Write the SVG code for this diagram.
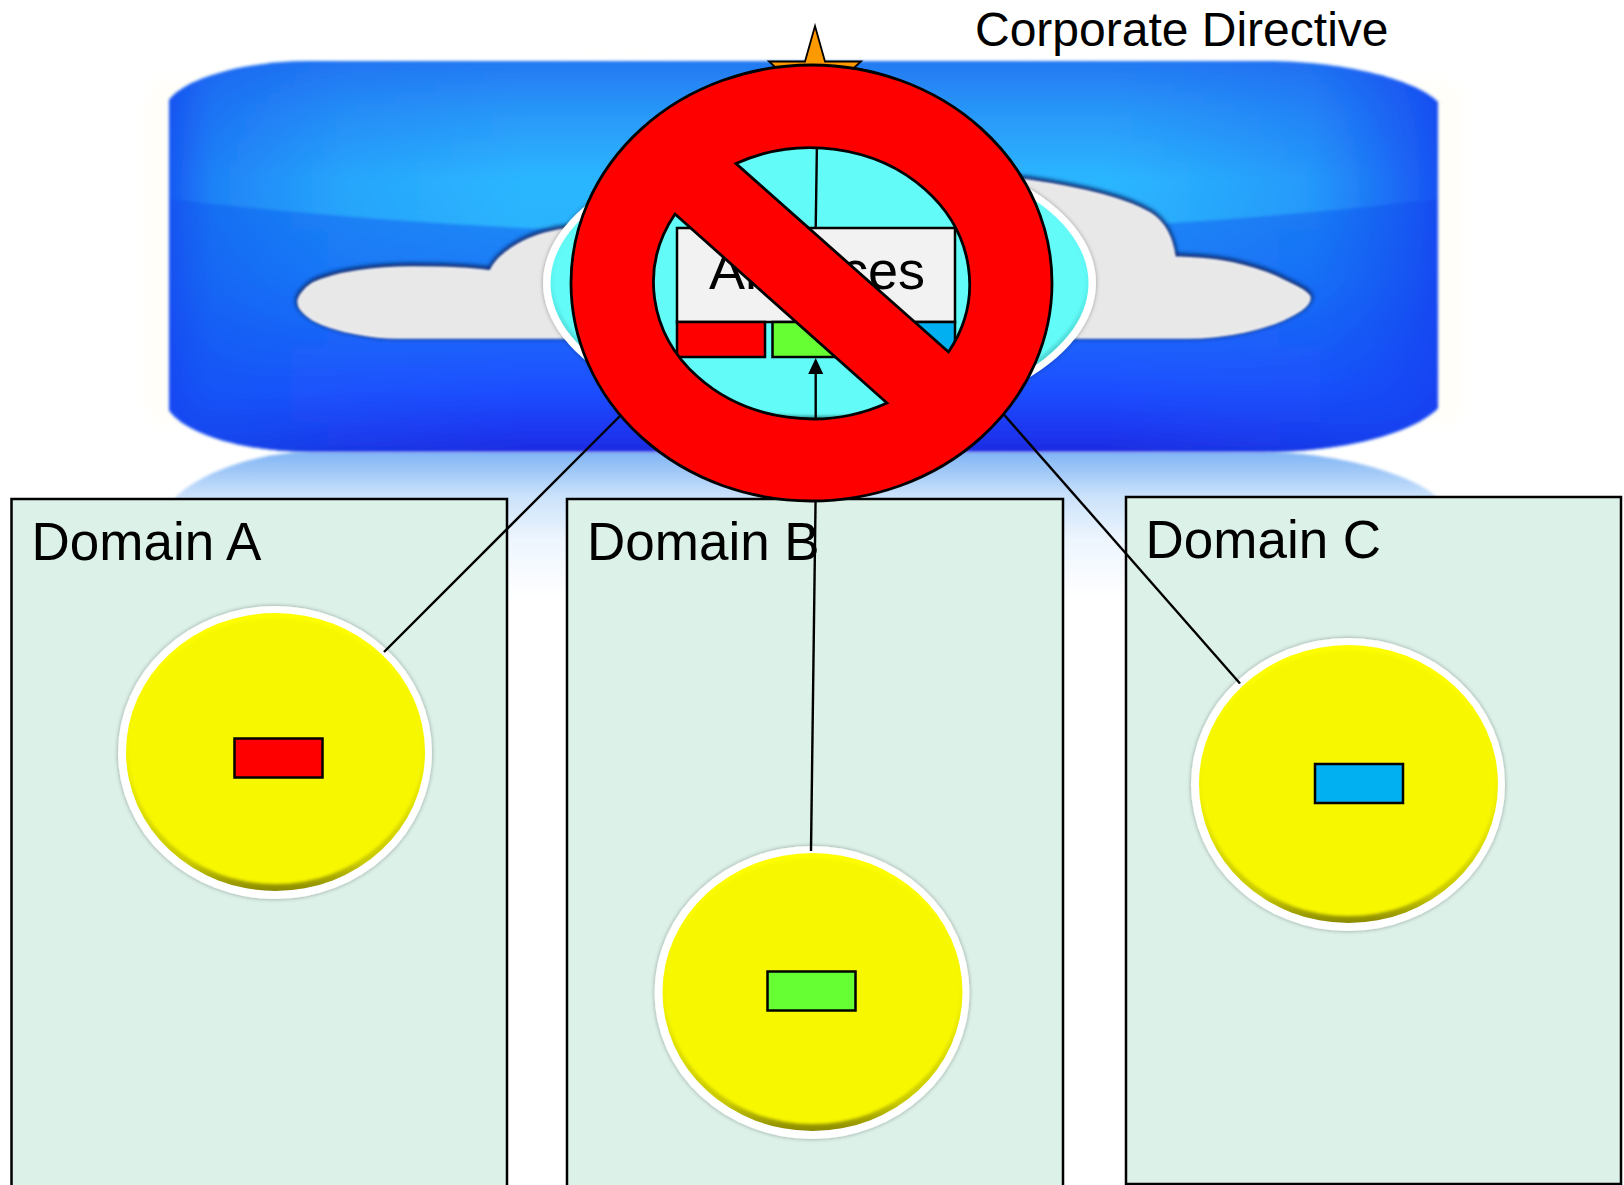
<svg xmlns="http://www.w3.org/2000/svg" width="1624" height="1185" viewBox="0 0 1624 1185">
<style>
text{font-family:"Liberation Sans",Arial,sans-serif;fill:#000}
.lbl{font-size:53px}
.dom{fill:#dcf1e8;stroke:#000;stroke-width:2.500}
.conn{fill:none;stroke:#000;stroke-width:2.400}
.ring{fill:#fff;filter:url(#sh)}
.tag{stroke:#000;stroke-width:2.500}
.yb{fill:url(#ybase)}
.yi{fill:#f7f700;filter:url(#soft)}
</style>
<defs>
<linearGradient id="bv" gradientUnits="userSpaceOnUse" x1="0" y1="60" x2="0" y2="260">
<stop offset="0" stop-color="#2378f2"/><stop offset=".25" stop-color="#2896f8"/><stop offset=".6" stop-color="#2bb6ff"/><stop offset="1" stop-color="#2ab2fc"/>
</linearGradient>
<linearGradient id="bl" gradientUnits="userSpaceOnUse" x1="0" y1="200" x2="0" y2="452">
<stop offset="0" stop-color="#1c8cf5"/><stop offset=".3" stop-color="#1a7cf8"/><stop offset=".76" stop-color="#1c4dff"/><stop offset=".92" stop-color="#1b36f0"/><stop offset="1" stop-color="#1a2be0"/>
</linearGradient>
<linearGradient id="bh" x1="0" y1="0" x2="1" y2="0">
<stop offset="0" stop-color="#1448f0" stop-opacity=".85"/><stop offset=".035" stop-color="#1458f0" stop-opacity=".55"/><stop offset=".14" stop-color="#1464f0" stop-opacity=".2"/><stop offset=".28" stop-color="#1464f0" stop-opacity="0"/><stop offset=".74" stop-color="#1464f0" stop-opacity="0"/><stop offset=".9" stop-color="#1454f0" stop-opacity=".3"/><stop offset="1" stop-color="#1440f0" stop-opacity=".85"/>
</linearGradient>
<linearGradient id="rf" gradientUnits="userSpaceOnUse" x1="0" y1="452" x2="0" y2="600">
<stop offset="0" stop-color="#7fb4f5"/><stop offset=".3" stop-color="#cbe2fb"/><stop offset=".6" stop-color="#eef6fe"/><stop offset="1" stop-color="#fff"/>
</linearGradient>
<linearGradient id="ybase" x1="0" y1="0" x2="0" y2="1">
<stop offset="0" stop-color="#ffff00"/><stop offset=".5" stop-color="#f4f400"/><stop offset=".9" stop-color="#c8c800"/><stop offset="1" stop-color="#8a8a00"/>
</linearGradient>
<linearGradient id="cbase" x1="0" y1="0" x2="0" y2="1">
<stop offset="0" stop-color="#70fffc"/><stop offset=".5" stop-color="#5cf4f1"/><stop offset=".9" stop-color="#45c8c6"/><stop offset="1" stop-color="#2c9492"/>
</linearGradient>
<filter id="b2" x="-5%" y="-5%" width="110%" height="110%"><feGaussianBlur stdDeviation="1.600"/></filter>
<filter id="b3" x="-5%" y="-10%" width="110%" height="120%"><feGaussianBlur stdDeviation="2"/></filter>
<filter id="b1" x="-5%" y="-10%" width="110%" height="120%"><feGaussianBlur stdDeviation="0.800"/></filter>
<filter id="soft" x="-5%" y="-5%" width="110%" height="110%"><feGaussianBlur stdDeviation="1.500"/></filter>
<filter id="b8" x="-10%" y="-20%" width="120%" height="140%"><feGaussianBlur stdDeviation="7"/></filter>
<filter id="sh" x="-10%" y="-10%" width="120%" height="120%"><feDropShadow dx="0" dy="0" stdDeviation="2" flood-color="#000" flood-opacity=".35"/></filter>
<path id="blueShape" d="M169 100C185 78 245 61 310 61H1265C1340 61 1413 78 1438 102V408C1413 434 1340 452 1265 452H310C245 452 185 434 169 410Z"/>
<clipPath id="blueClip"><use href="#blueShape"/></clipPath>
<path id="cloud" d="M298 302C298 296 305 288 313 283C335 272 375 267 413 267C445 267 470 268 490 271C498 254 526 232 575 228L820 170L1027 180C1062 185 1120 195 1150 213C1163 221 1172 235 1175 257C1200 258 1220 260 1233 263C1255 268 1272 274 1283 280C1298 287 1310 293 1310 298C1310 306 1298 313 1283 320C1265 328 1230 338 1187 338H397C375 338 335 332 313 320C305 315 298 308 298 302Z"/>
</defs>
<rect width="1624" height="1185" fill="#fff"/>

<g id="cloud-badge">
<path d="M150 86Q420 40 1460 86V420Q900 480 150 420Z" fill="#fffdf2" opacity=".6" filter="url(#b8)"/>
<path d="M169 505C190 475 255 452 310 452H1265C1330 452 1410 472 1438 498V600H169Z" fill="url(#rf)" filter="url(#b2)"/>
<g filter="url(#b2)">
<use href="#blueShape" fill="url(#bv)"/>
<path clip-path="url(#blueClip)" d="M160 198Q805 272 1450 198V460H160Z" fill="url(#bl)"/>
<use href="#blueShape" fill="url(#bh)"/>
</g>
<use href="#cloud" fill="#0a2a70" stroke="#0a2a70" stroke-width="5" transform="translate(0 -1.500)" filter="url(#b3)"/>
<use href="#cloud" fill="#e8e8e8" stroke="#f6f6fb" stroke-width="1.500" filter="url(#b1)"/>
</g>

<g id="domain-a"><rect class="dom" x="11.500" y="499" width="495.500" height="700"/><text class="lbl" x="31.500" y="560">Domain A</text></g>
<g id="domain-b"><rect class="dom" x="567" y="499" width="496" height="700"/><text class="lbl" x="587" y="560">Domain B</text></g>
<g id="domain-c"><rect class="dom" x="1126" y="497" width="495" height="687"/><text class="lbl" x="1145.500" y="558">Domain C</text></g>

<g id="agent-a">
<ellipse class="ring" cx="275" cy="752.500" rx="157" ry="146.500"/>
<ellipse class="yb" cx="275.500" cy="752" rx="149.500" ry="139"/>
<ellipse class="yi" cx="275.500" cy="751" rx="147" ry="133"/>
<rect class="tag" x="234.500" y="738.500" width="88" height="39" fill="#ff0000"/>
</g>
<g id="agent-b">
<ellipse class="ring" cx="812" cy="992.500" rx="157.500" ry="146.500"/>
<ellipse class="yb" cx="812.500" cy="992" rx="150" ry="139"/>
<ellipse class="yi" cx="812.500" cy="991" rx="147.500" ry="133"/>
<rect class="tag" x="767.500" y="971.500" width="88" height="39" fill="#66ff33"/>
</g>
<g id="agent-c">
<ellipse class="ring" cx="1348" cy="784.500" rx="157" ry="146.500"/>
<ellipse class="yb" cx="1348.500" cy="784" rx="149.500" ry="139"/>
<ellipse class="yi" cx="1348.500" cy="783" rx="147" ry="133"/>
<rect class="tag" x="1315" y="764" width="88" height="39" fill="#00b0f0"/>
</g>

<g id="connectors">
<path class="conn" d="M384 652L640 396"/>
<path class="conn" d="M1240 683.500L985 393"/>
<path class="conn" d="M811 851L815.700 490"/>
</g>

<g id="star"><polygon points="815,26 825,61.500 861,61.500 835,85 847,130 815,110 783,130 795,85 769,61.500 805,61.500" fill="#ff9900" stroke="#000" stroke-width="1.800"/></g>

<g id="central">
<ellipse class="ring" cx="819.500" cy="283" rx="276.500" ry="145"/>
<ellipse cx="819.500" cy="283" rx="269" ry="138" fill="url(#cbase)"/>
<ellipse cx="819.500" cy="282" rx="266" ry="134" fill="#62fbf8" filter="url(#soft)"/>
<path class="conn" d="M815.700 228L817.600 100"/>
<path class="conn" d="M815.700 372V500"/>
<path d="M815.700 358l-7.500 16h15z" fill="#000"/>
<g id="alliances">
<rect x="677" y="228" width="278" height="94" fill="#f2f2f2" stroke="#000" stroke-width="2.500"/>
<text x="709" y="289" font-size="54">Alliances</text>
<rect class="tag" x="677" y="322" width="88" height="35" fill="#ff0000"/>
<rect class="tag" x="772.500" y="322" width="88" height="35" fill="#66ff33"/>
<rect class="tag" x="867" y="322" width="88" height="35" fill="#00b0f0"/>
</g>
</g>

<g id="no-symbol">
<path fill="#ff0000" fill-rule="evenodd" stroke="#000" stroke-width="2.800" d="M571 283A240.500 218 0 1 1 1052 283A240.500 218 0 1 1 571 283ZM736 163.600A159 136.400 0 0 1 948.500 352ZM675 214A159 136.400 0 0 0 887 403Z"/>
</g>

<g id="directive"><text x="975" y="45.500" font-size="48">Corporate Directive</text></g>
</svg>
